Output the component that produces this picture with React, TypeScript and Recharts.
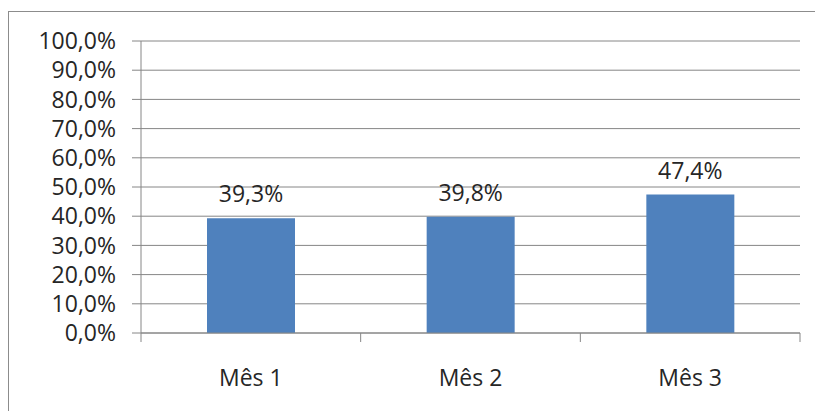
import React from 'react';
import { BarChart, Bar, XAxis, YAxis, CartesianGrid, LabelList } from 'recharts';

const months = ['Mês 1', 'Mês 2', 'Mês 3'];
const shares = [39.3, 39.8, 47.4];
const yTicks = [0, 10, 20, 30, 40, 50, 60, 70, 80, 90, 100];
const edgeTicks = [0, 1, 2, 3];

const data = months.map((m, i) => ({ month: m, value: shares[i], pos: i + 0.5 }));

const fmt = (v: number) => v.toFixed(1).replace('.', ',') + '%';
const font = '"Open Sans", "Liberation Sans", sans-serif';
const grey = '#868686';
const ink = '#262626';

export default function App() {
    return (
        <div style={{ position: 'absolute', left: 0, top: 0, width: 815, height: 411, background: '#fff', overflow: 'hidden', fontFamily: font }}>
            {/* outer chart frame, runs off the right and bottom edge */}
            <div style={{ position: 'absolute', left: 8, top: 11, width: 830, height: 430, border: '1px solid #8c8c8c' }} />
            <div style={{ position: 'absolute', left: 0, top: 0 }}>
                <BarChart
                    width={815}
                    height={411}
                    data={data}
                    margin={{ top: 41, right: 15, bottom: 0, left: 0 }}
                    barCategoryGap={66}
                >
                    <CartesianGrid vertical={false} stroke={grey} strokeWidth={1} />
                    {/* boundary ticks between months (sits right under the plot) */}
                    <XAxis
                        dataKey="pos"
                        xAxisId="base"
                        type="number"
                        domain={[0, 3]}
                        ticks={edgeTicks}
                        interval={0}
                        height={9}
                        tickSize={9}
                        tickFormatter={() => ''}
                        stroke={grey}
                        axisLine={{ stroke: grey }}
                        tickLine={{ stroke: grey }}
                    />
                    <XAxis
                        dataKey="month"
                        xAxisId="cat"
                        height={69}
                        axisLine={false}
                        tickLine={false}
                        tickSize={0}
                        tickMargin={28}
                        interval={0}
                        tick={{ fill: ink, fontSize: 23, fontFamily: font }}
                    />
                    <YAxis
                        width={141}
                        domain={[0, 100]}
                        ticks={yTicks}
                        interval={0}
                        tickFormatter={fmt}
                        tickSize={9}
                        tickMargin={16}
                        axisLine={{ stroke: grey }}
                        tickLine={{ stroke: grey }}
                        tick={{ fill: ink, fontSize: 23, fontFamily: font }}
                    />
                    <Bar dataKey="value" xAxisId="cat" fill="#4f81bd" isAnimationActive={false}>
                        <LabelList
                            dataKey="value"
                            position="top"
                            offset={16}
                            formatter={(v: any) => fmt(Number(v))}
                            style={{ fill: ink, fontSize: 23, fontFamily: font }}
                        />
                    </Bar>
                </BarChart>
            </div>
        </div>
    );
}
